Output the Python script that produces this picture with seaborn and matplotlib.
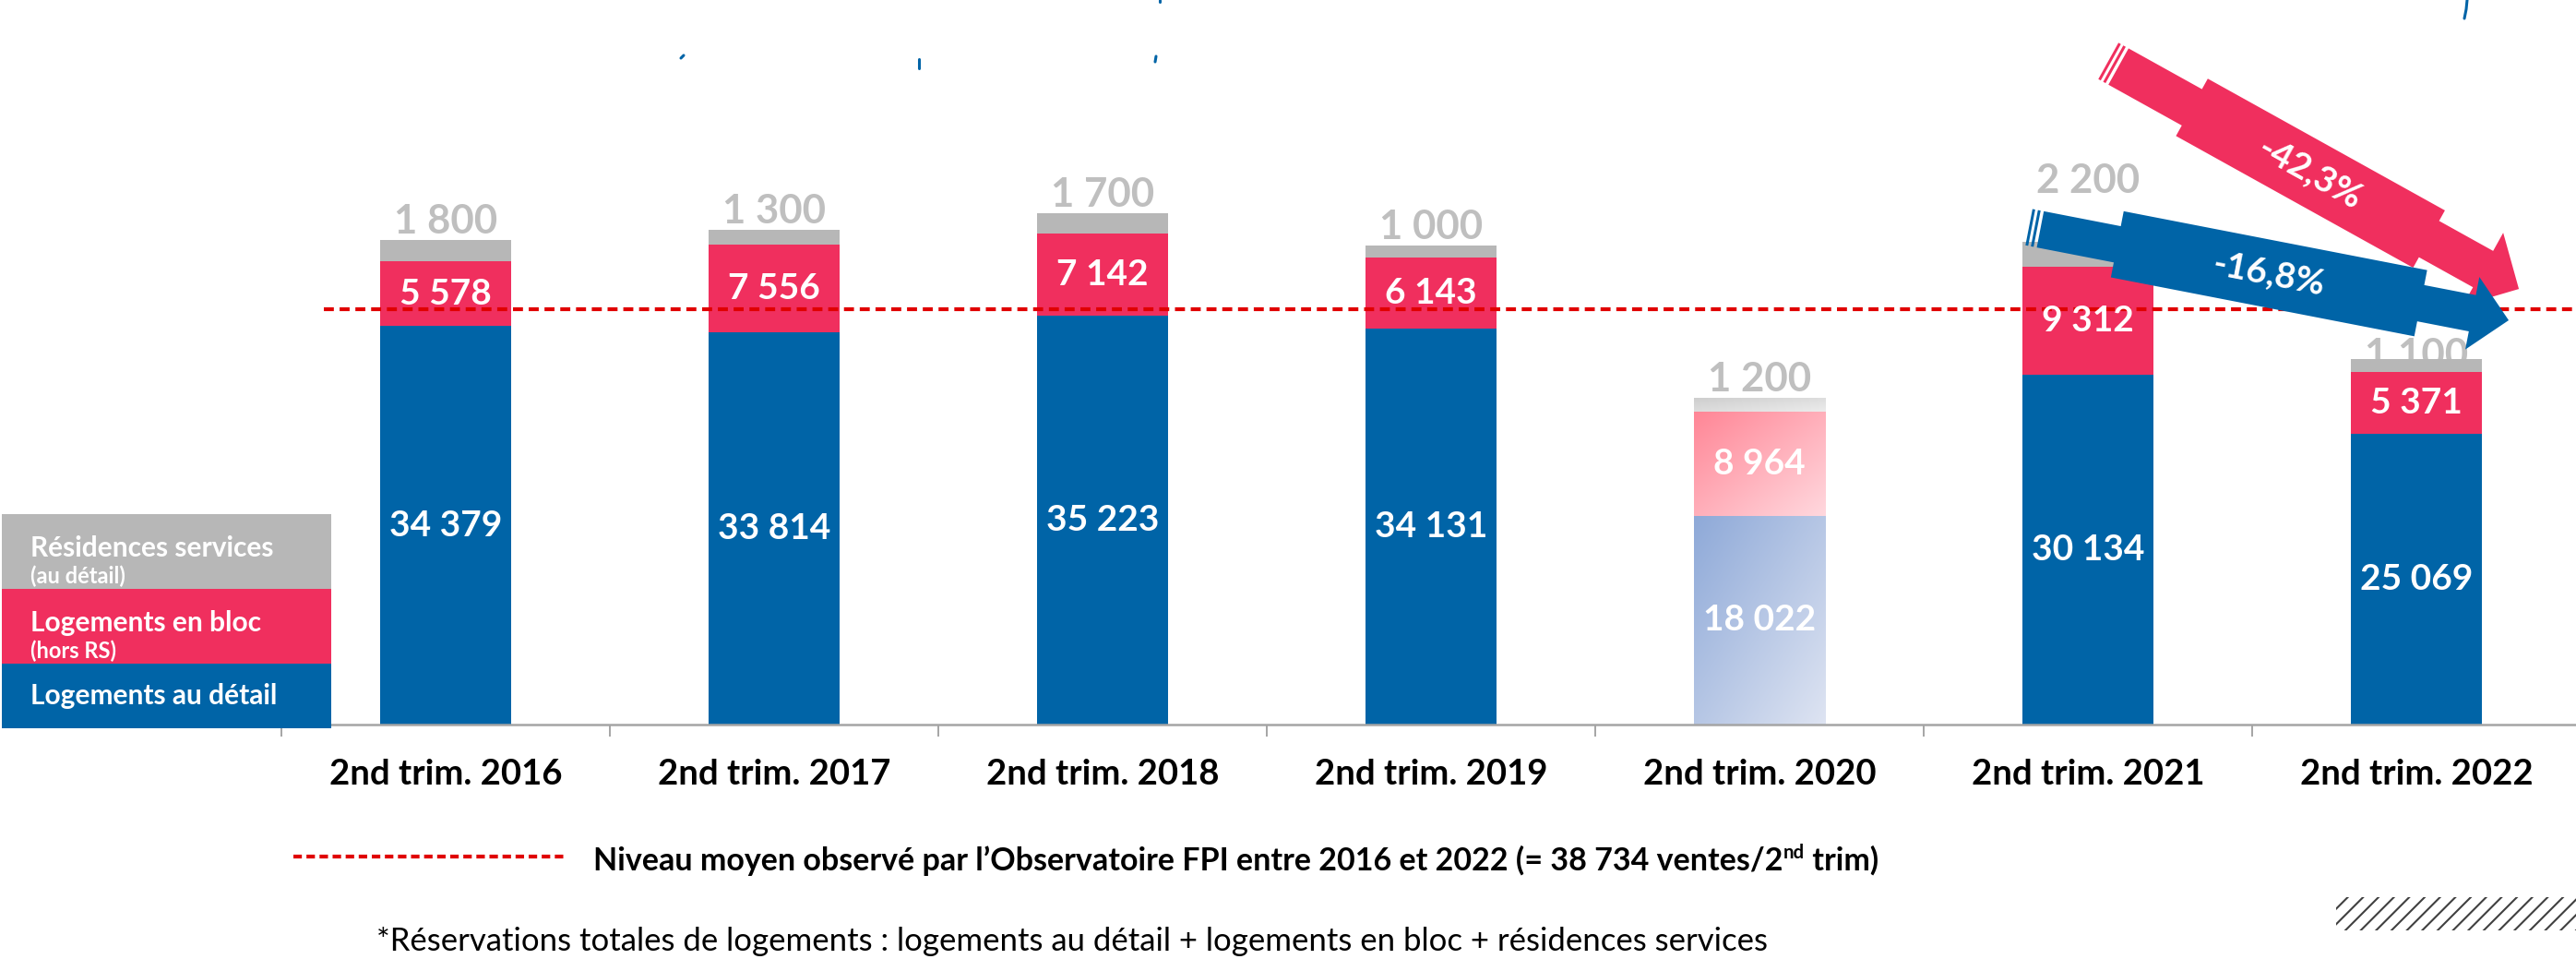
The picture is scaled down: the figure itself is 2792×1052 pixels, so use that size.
import numpy as np
import matplotlib.pyplot as plt
import matplotlib.patches as mpatches
import matplotlib.lines as mlines
import matplotlib.colors as mcolors
from matplotlib.transforms import IdentityTransform
import seaborn as sns

# Données (ventes au 2nd trimestre)
periods = ['2nd trim. 2016', '2nd trim. 2017', '2nd trim. 2018', '2nd trim. 2019',
           '2nd trim. 2020', '2nd trim. 2021', '2nd trim. 2022']
logements_detail = [34379, 33814, 35223, 34131, 18022, 30134, 25069]
logements_bloc = [5578, 7556, 7142, 6143, 8964, 9312, 5371]
residences_services = [1800, 1300, 1700, 1000, 1200, 2200, 1100]
avg_label = '38 734'
avg_line_level = 35800   # level where the dashed line is drawn in the picture
evol_bloc = '-42,3%'
evol_detail = '-16,8%'
covid_year = 4           # 2020 bar drawn with faded gradients

W, H = 2792, 1052
BLUE = '#0064A7'
RED = '#F02F5E'
GRAY = '#B7B7B7'
GRAY_TXT = '#BFBFBF'
DASH_RED = '#E00000'
AXIS_GRAY = '#A5A5A5'

sns.set_theme(style='white')
plt.rcParams['font.family'] = ['Lato', 'DejaVu Sans']
plt.rcParams['hatch.linewidth'] = 1.5

fig = plt.figure(figsize=(W / 100, H / 100), dpi=100)
ax = fig.add_axes([305 / W, 1 - 785 / H, 2492 / W, 779 / H])

detail = np.array(logements_detail)
bloc = np.array(logements_bloc)
rs = np.array(residences_services)
total = detail + bloc + rs

common = dict(width=0.4, saturation=1, errorbar=None, linewidth=0, ax=ax, zorder=2)
sns.barplot(x=periods, y=detail, color=BLUE, **common)
sns.barplot(x=periods, y=bloc, bottom=detail, color=RED, **common)
sns.barplot(x=periods, y=rs, bottom=detail + bloc, color=GRAY, **common)


def gradient_fill(patch, c0, c1):
    x0, y0 = patch.get_x(), patch.get_y()
    w, h = patch.get_width(), patch.get_height()
    r = np.linspace(0, 1, 200)[:, None]
    c = np.linspace(0, 1, 80)[None, :]
    t = ((r + c) / 2)[..., None]
    a = np.array(mcolors.to_rgb(c0))
    b = np.array(mcolors.to_rgb(c1))
    img = a + (b - a) * t
    patch.set_facecolor(c1)
    im = ax.imshow(img, extent=[x0, x0 + w, y0, y0 + h], origin='upper', aspect='auto',
                   interpolation='bilinear', zorder=2.1)
    im.set_clip_path(patch)


grads = [('#8EA9D8', '#DEE4F2'), ('#FF8696', '#FFD8DE'), ('#CDCDCD', '#ECECEC')]
for cont, (c0, c1) in zip(ax.containers[:3], grads):
    gradient_fill(cont.patches[covid_year], c0, c1)

ax.set_xlim(-0.5, 6.5)
ax.set_ylim(0, 62000)

for s in ['left', 'right', 'top']:
    ax.spines[s].set_visible(False)
ax.spines['bottom'].set_color(AXIS_GRAY)
ax.spines['bottom'].set_linewidth(1.8)
ax.set_yticks([])
ax.set_xticks(range(len(periods)))
ax.set_xticklabels(periods, fontsize=27.5, fontweight='bold', color='black')
ax.set_xticks(np.arange(-0.5, len(periods)), minor=True)
ax.tick_params(axis='x', which='major', length=0, pad=27)
ax.tick_params(axis='x', which='minor', length=9.5, width=1.4, color=AXIS_GRAY, direction='out', bottom=True)
ax.set_xlabel('')
ax.set_ylabel('')


def fmt(v):
    return f'{v:,}'.replace(',', ' ')


# décalage (points) des étiquettes grises au-dessus des barres, comme dans l'original
rs_label_offset = [5, 5, 5, 5, 5, 38, -7]

for i in range(len(periods)):
    ax.text(i, detail[i] / 2, fmt(detail[i]), ha='center', va='center', color='white',
            fontsize=28, fontweight='bold', zorder=5)
    ax.text(i, detail[i] + bloc[i] / 2, fmt(bloc[i]), ha='center', va='center', color='white',
            fontsize=28, fontweight='bold', zorder=5)
    ax.annotate(fmt(rs[i]), (i, total[i]), xytext=(0, rs_label_offset[i]), textcoords='offset points',
                ha='center', va='baseline', color=GRAY_TXT, fontsize=31.5, fontweight='bold', zorder=1.5)

# ligne du niveau moyen
ax.axhline(avg_line_level, xmin=(351 - 305) / 2492, xmax=1, color=DASH_RED, lw=3,
           ls=(0, (2.6, 1.5)), zorder=4)


# flèches d'évolution 2021 -> 2022
def striped_arrow(tail, tip, hn, hw, w0, w1, sh, hh, color, stripes, label):
    p0 = ax.transData.transform(tail)
    p1 = ax.transData.transform(tip)
    d = p1 - p0
    L = np.hypot(*d)
    u = d / L
    n = np.array([-u[1], u[0]])

    def P(s, w):
        return p0 + s * u + w * n

    pts = [P(0, hn), P(w0, hn), P(w0, hw), P(w1, hw), P(w1, hn), P(sh, hn), P(sh, hh), P(L, 0),
           P(sh, -hh), P(sh, -hn), P(w1, -hn), P(w1, -hw), P(w0, -hw), P(w0, -hn), P(0, -hn)]
    ax.add_patch(mpatches.Polygon(pts, closed=True, transform=IdentityTransform(), fc=color,
                                  ec='none', zorder=7, clip_on=False))
    for a, b in stripes:
        q = [P(a, hn), P(b, hn), P(b, -hn), P(a, -hn)]
        ax.add_patch(mpatches.Polygon(q, closed=True, transform=IdentityTransform(), fc=color,
                                      ec='none', zorder=7, clip_on=False))
    ang = np.degrees(np.arctan2(u[1], u[0]))
    mid = P((w0 + w1) / 2, 0)
    ax.text(mid[0], mid[1], label, transform=IdentityTransform(), rotation=ang, rotation_mode='anchor',
            ha='center', va='center', color='white', fontsize=28, fontweight='bold', zorder=8)


striped_arrow((5.093, 56740), (6.312, 37560), 22.5, 35.5, 91, 385, 452, 45, RED,
              [(-6.5, -3.5), (-12.5, -9.5)], evol_bloc)
striped_arrow((4.855, 42700), (6.281, 34860), 20, 36.5, 85, 420, 477, 40, BLUE,
              [(-6.5, -3.5), (-12.5, -9.5)], evol_detail)


# éléments en coordonnées image (pixels, y vers le bas)
def fx(x):
    return x / W


def fy(y):
    return 1 - y / H


def fig_rect(x0, y0, x1, y1, **kw):
    fig.add_artist(mpatches.Rectangle((fx(x0), fy(y1)), (x1 - x0) / W, (y1 - y0) / H,
                                      transform=fig.transFigure, **kw))


# légende à gauche
fig_rect(2, 557, 359, 638, fc=GRAY, ec='none', zorder=5)
fig_rect(2, 638, 359, 719, fc=RED, ec='none', zorder=5)
fig_rect(2, 719, 359, 789, fc=BLUE, ec='none', zorder=5)
leg_kw = dict(color='white', fontweight='bold', va='baseline', ha='left', zorder=6)
fig.text(fx(33), fy(603), 'Résidences services', fontsize=21.5, **leg_kw)
fig.text(fx(33), fy(632), '(au détail)', fontsize=17, **leg_kw)
fig.text(fx(33), fy(684), 'Logements en bloc', fontsize=21.5, **leg_kw)
fig.text(fx(33), fy(713), '(hors RS)', fontsize=17, **leg_kw)
fig.text(fx(33), fy(763), 'Logements au détail', fontsize=21.5, **leg_kw)

# légende de la ligne moyenne
fig.add_artist(mlines.Line2D([fx(318), fx(612)], [fy(928), fy(928)], transform=fig.transFigure,
                             color=DASH_RED, lw=3, ls=(0, (2.2, 1.2))))
renderer = fig.canvas.get_renderer()
fs = 24.5
t1 = fig.text(fx(643), fy(943), f'Niveau moyen observé par l’Observatoire FPI entre 2016 et 2022 (= {avg_label} ventes/2',
              fontsize=fs, fontweight='bold', va='baseline', color='black')
bb = t1.get_window_extent(renderer)
t2 = fig.text(bb.x1 / W, fy(943 - 13), 'nd', fontsize=fs * 0.6, fontweight='bold', va='baseline', color='black')
bb2 = t2.get_window_extent(renderer)
fig.text(bb2.x1 / W, fy(943), ' trim)', fontsize=fs, fontweight='bold', va='baseline', color='black')

fig.text(fx(408), fy(1030),
         '*Réservations totales de logements : logements au détail + logements en bloc + résidences services',
         fontsize=25, va='baseline', color='black')

# motif hachuré en bas à droite
fig_rect(2532, 972, 2800, 1008, fc='none', ec='#404040', lw=0, hatch='//')

# fragments bleus en haut
for xs, ys in [([2674, 2673, 2671], [0, 10, 20]), ([738, 741], [63, 60]),
               ([996, 996], [64, 74]), ([1253, 1252], [61, 67]), ([1257, 1257], [0, 2])]:
    fig.add_artist(mlines.Line2D([fx(x) for x in xs], [fy(y) for y in ys], transform=fig.transFigure,
                                 color=BLUE, lw=2.2))

fig.savefig('out.png', dpi=100)
